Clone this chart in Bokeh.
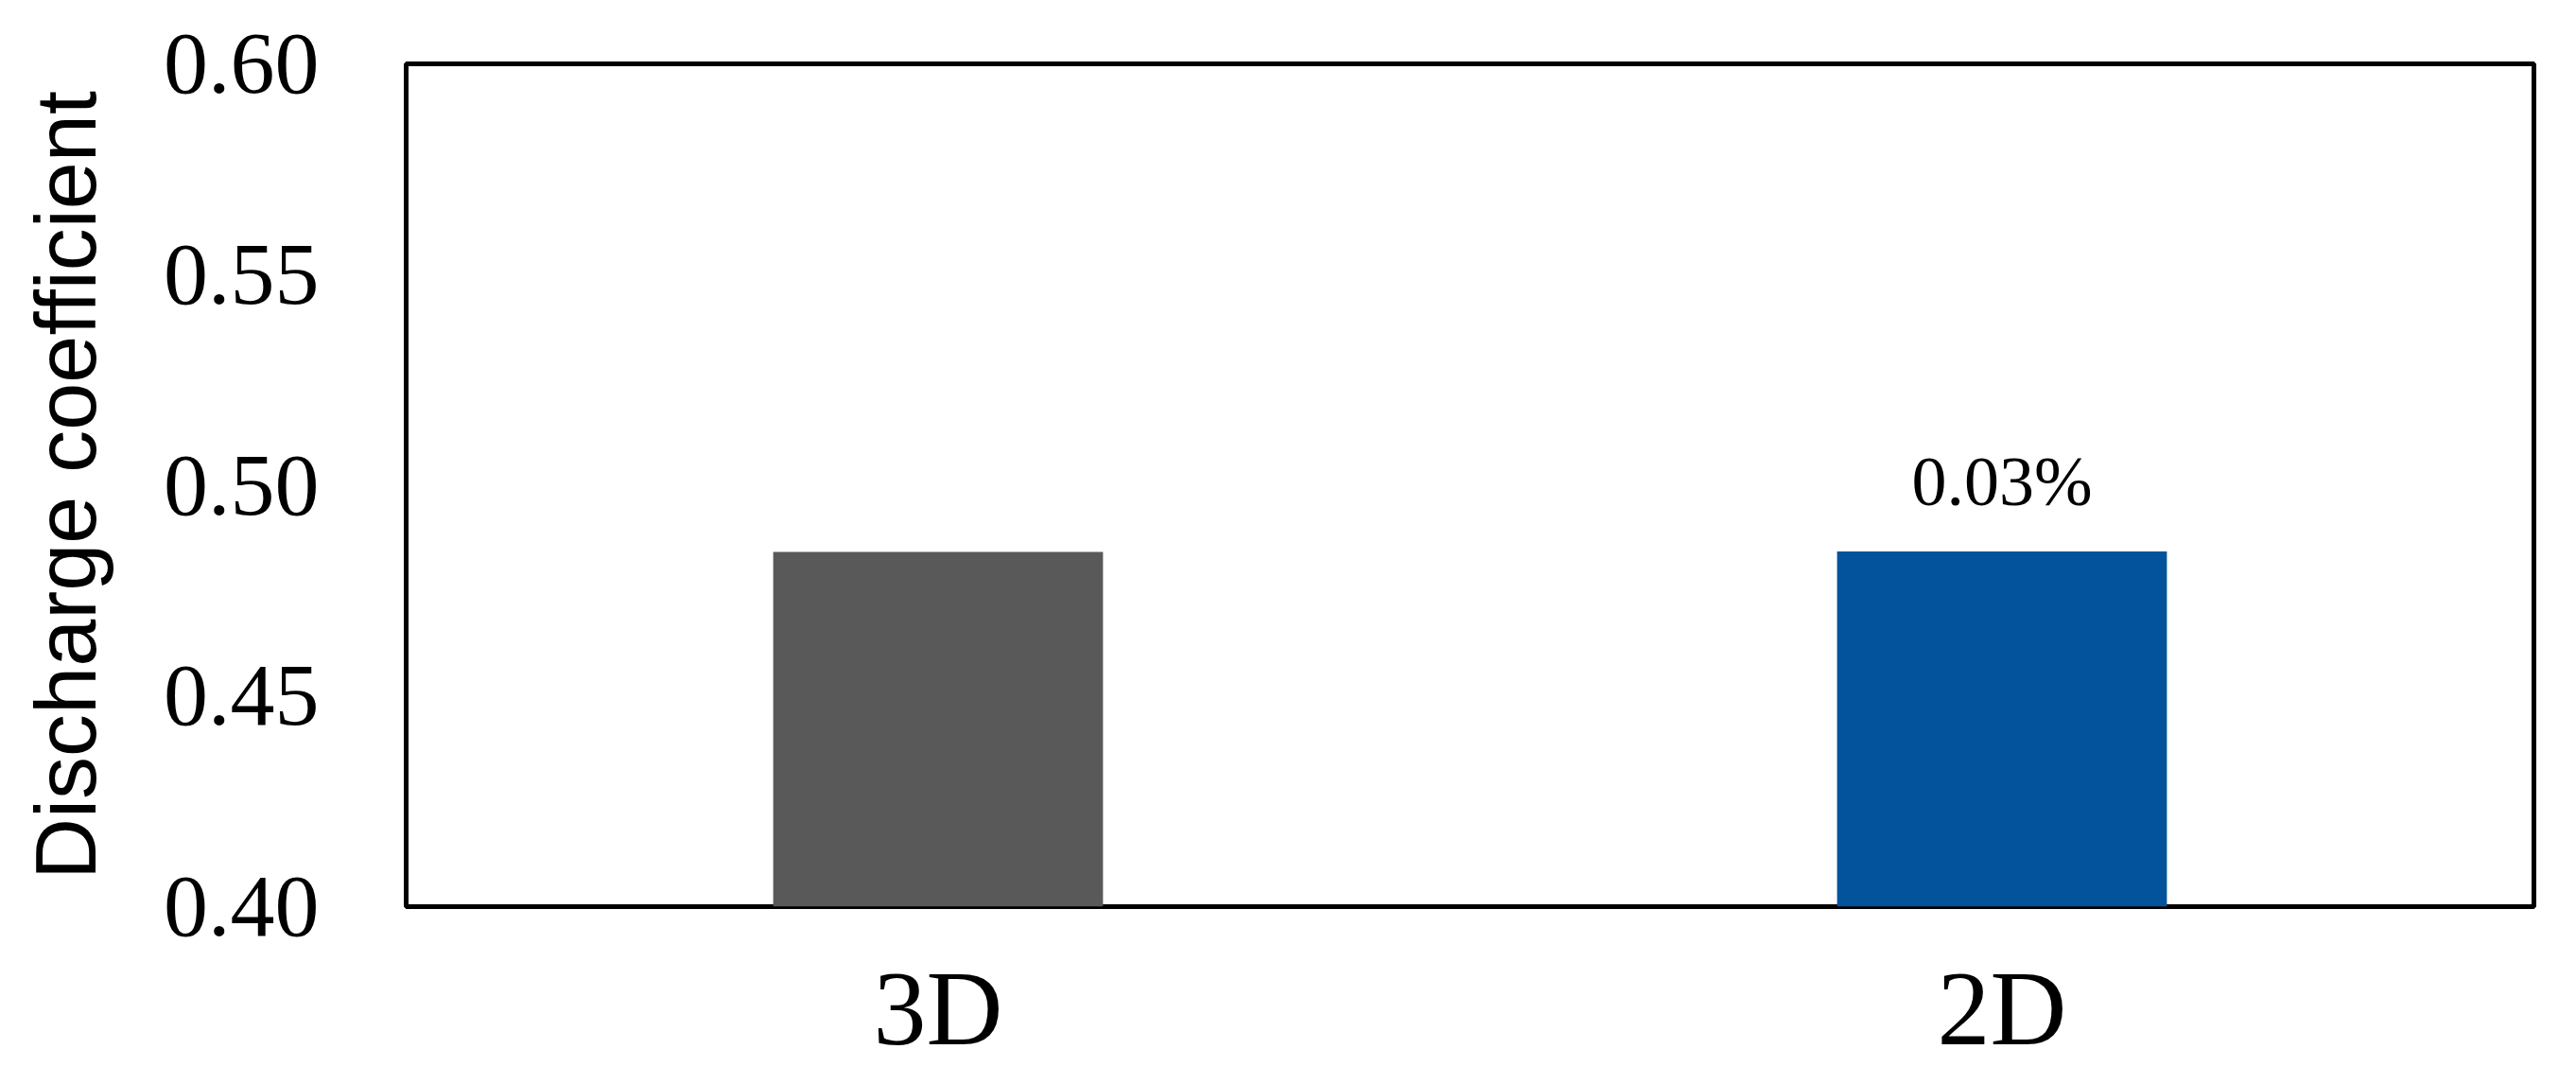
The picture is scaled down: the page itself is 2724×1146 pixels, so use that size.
from bokeh.plotting import figure
from bokeh.models import Range1d, FixedTicker, ColumnDataSource
from bokeh.core.properties import value
from bokeh.embed import file_html
from bokeh.resources import INLINE

# ---- data ----
categories = ["3D", "2D"]
coefficients = [0.4842, 0.4843]
bar_colors = ["#595959", "#02539B"]
annotations = ["", "0.03%"]
y_ticks = [0.40, 0.45, 0.50, 0.55, 0.60]
y_tick_labels = ["0.40", "0.45", "0.50", "0.55", "0.60"]

src = ColumnDataSource(dict(cat=categories, val=coefficients, color=bar_colors, note=annotations))

p = figure(
    x_range=categories,
    y_range=Range1d(0.40, 0.60),
    width=2708, height=1130,
    output_backend="svg", toolbar_location=None,
    min_border_left=429, min_border_right=29, min_border_top=67, min_border_bottom=170,
)
p.background_fill_color = "white"
p.border_fill_color = "white"
p.outline_line_color = "black"
p.outline_line_width = 5
p.xgrid.visible = False
p.ygrid.visible = False

p.vbar(x="cat", top="val", bottom=0.40, width=0.31, color="color", line_color=None, source=src)

p.text(x="cat", y="val", text="note", source=src, text_align="center", text_baseline="alphabetic",
       y_offset=-74, text_font=value("Liberation Serif"), text_font_size="74px", text_color="black")

# y axis
p.yaxis.ticker = FixedTicker(ticks=y_ticks)
p.yaxis.major_label_overrides = {t: l for t, l in zip(y_ticks, y_tick_labels)}
p.yaxis.major_label_text_font = "Liberation Serif"
p.yaxis.major_label_text_font_size = "94px"
p.yaxis.major_label_text_color = "black"
p.yaxis.major_label_standoff = 92
p.yaxis.axis_label = "Discharge coefficient"
p.yaxis.axis_label_text_font = "Liberation Sans"
p.yaxis.axis_label_text_font_size = "90px"
p.yaxis.axis_label_text_font_style = "normal"
p.yaxis.axis_label_text_color = "black"
p.yaxis.axis_label_standoff = 50

# x axis
p.xaxis.major_label_text_font = "Liberation Serif"
p.xaxis.major_label_text_font_size = "112px"
p.xaxis.major_label_text_color = "black"
p.xaxis.major_label_standoff = 45

for ax in (p.xaxis, p.yaxis):
    ax.axis_line_color = None
    ax.major_tick_line_color = None
    ax.minor_tick_line_color = None
    ax.major_tick_out = 0
    ax.major_tick_in = 0

open("out.html", "w").write(file_html(p, INLINE))
